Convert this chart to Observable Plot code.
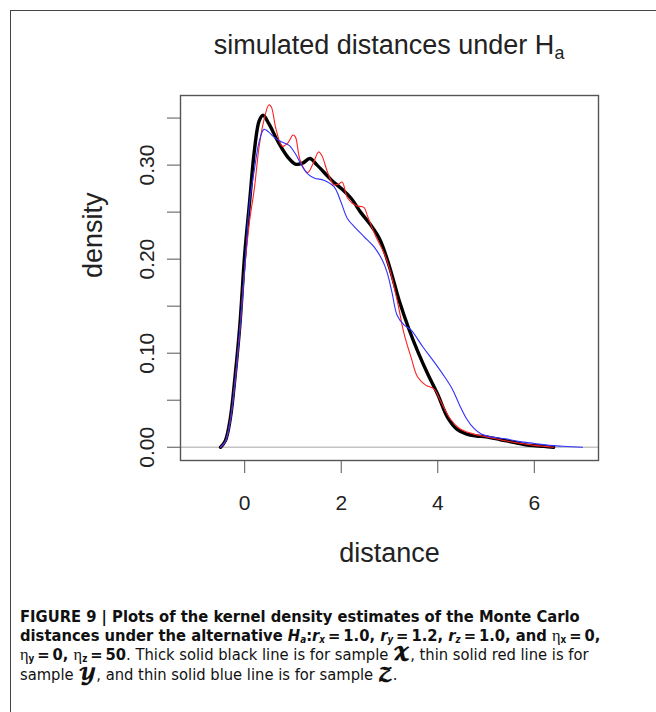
<!DOCTYPE html>
<html>
<head>
<meta charset="utf-8">
<script src="https://cdn.jsdelivr.net/npm/d3@7"></script>
<script src="https://cdn.jsdelivr.net/npm/@observablehq/plot@0.6"></script>
<style>
  html, body { margin: 0; padding: 0; background: #fff; }
  #wrap { position: relative; width: 656px; height: 712px; overflow: hidden; background: #fff; }
  #border { position: absolute; left: 10px; top: 10px; width: 700px; height: 760px; border-left: 1px solid #444; border-top: 1px solid #444; }
  #chart { position: absolute; left: 0; top: 0; }
  #title { position: absolute; left: 180px; width: 418px; top: 32px; text-align: center;
           font-family: "Liberation Sans", Arial, sans-serif; font-size: 27px; line-height: 27px; color: #222; }
  #title sub { font-size: 0.66em; vertical-align: -0.3em; line-height: 0; }
  #caption { position: absolute; left: 20px; top: 607px; width: 630px;
             font-family: "Liberation Sans Narrow", "DejaVu Sans Condensed", "Liberation Sans", sans-serif;
             font-stretch: condensed; font-size: 16.4px; line-height: 19px; color: #111; }
  #caption b { font-weight: bold; }
  .eta { font-family: "Liberation Serif", "DejaVu Serif", serif; font-weight: normal; }
  .scr { font-family: "DejaVu Math TeX Gyre", "DejaVu Sans", "DejaVu Serif", serif; font-weight: bold; }
  #caption sub { font-size: 0.6em; vertical-align: -0.2em; line-height: 0; }
</style>
</head>
<body>
<div id="wrap">
  <div id="border"></div>
  <div id="chart"></div>
  <div id="title">simulated distances under H<sub>a</sub></div>
  <div id="caption"><b>FIGURE 9 | Plots of the kernel density estimates of the Monte Carlo<br>distances under the alternative <i>H<sub>a</sub></i>:<i>r<sub>x</sub></i>&#8201;=&#8201;1.0, <i>r<sub>y</sub></i>&#8201;=&#8201;1.2, <i>r<sub>z</sub></i>&#8201;=&#8201;1.0, and <span class="eta">η</span><sub>x</sub>&#8201;=&#8201;0,<br><span class="eta">η</span><sub>y</sub>&#8201;=&#8201;0, <span class="eta">η</span><sub>z</sub>&#8201;=&#8201;50</b>. Thick solid black line is for sample <span class="scr">𝓧</span>, thin solid red line is for<br>sample <span class="scr">𝓨</span>, and thin solid blue line is for sample <span class="scr">𝓩</span>.</div>
</div>
<script>
// Sample X (thick black)
const blackX = [-0.5, -0.4, -0.3, -0.2, -0.1, 0.0, 0.1, 0.2, 0.3, 0.38, 0.5, 0.7, 0.9, 1.05, 1.2, 1.35, 1.5, 1.8, 2.0, 2.2, 2.4, 2.6, 2.8, 3.0, 3.2, 3.4, 3.6, 3.8, 4.0, 4.2, 4.4, 4.6, 4.8, 5.0, 5.3, 5.6, 5.9, 6.2, 6.4];
const blackY = [0.0, 0.007, 0.03, 0.075, 0.13, 0.205, 0.26, 0.315, 0.347, 0.353, 0.344, 0.324, 0.308, 0.301, 0.302, 0.307, 0.300, 0.284, 0.275, 0.265, 0.250, 0.237, 0.221, 0.192, 0.156, 0.126, 0.100, 0.077, 0.056, 0.032, 0.019, 0.014, 0.012, 0.011, 0.008, 0.005, 0.002, 0.001, 0.0];
// Sample Y (thin red)
const redX = [-0.5, -0.4, -0.3, -0.2, -0.1, 0.0, 0.1, 0.2, 0.3, 0.4, 0.5, 0.55, 0.65, 0.78, 0.9, 1.0, 1.05, 1.15, 1.3, 1.42, 1.53, 1.6, 1.72, 1.85, 1.95, 2.02, 2.13, 2.3, 2.47, 2.55, 2.7, 2.9, 3.0, 3.16, 3.3, 3.45, 3.58, 3.75, 3.92, 4.05, 4.26, 4.45, 4.68, 5.0, 5.3, 5.6, 6.0, 6.4];
const redY = [0.0, 0.006, 0.028, 0.07, 0.125, 0.19, 0.24, 0.275, 0.32, 0.348, 0.364, 0.362, 0.338, 0.320, 0.324, 0.332, 0.330, 0.305, 0.292, 0.302, 0.314, 0.310, 0.292, 0.279, 0.280, 0.282, 0.265, 0.257, 0.255, 0.245, 0.226, 0.205, 0.190, 0.156, 0.121, 0.095, 0.075, 0.066, 0.062, 0.050, 0.030, 0.020, 0.015, 0.011, 0.008, 0.005, 0.002, 0.0];
// Sample Z (thin blue)
const blueX = [-0.5, -0.4, -0.3, -0.2, -0.1, 0.0, 0.1, 0.2, 0.3, 0.4, 0.5, 0.6, 0.75, 0.92, 1.05, 1.2, 1.3, 1.45, 1.64, 1.85, 2.0, 2.13, 2.3, 2.47, 2.68, 2.85, 2.95, 3.05, 3.16, 3.3, 3.44, 3.7, 3.92, 4.1, 4.3, 4.45, 4.6, 4.75, 4.9, 5.1, 5.4, 5.7, 6.0, 6.3, 6.6, 7.0];
const blueY = [0.0, 0.006, 0.028, 0.07, 0.125, 0.19, 0.26, 0.295, 0.325, 0.338, 0.335, 0.330, 0.325, 0.321, 0.312, 0.298, 0.291, 0.286, 0.284, 0.277, 0.260, 0.243, 0.233, 0.224, 0.213, 0.199, 0.186, 0.165, 0.140, 0.130, 0.125, 0.106, 0.091, 0.078, 0.062, 0.045, 0.030, 0.020, 0.014, 0.011, 0.009, 0.006, 0.004, 0.002, 0.001, 0.0];

const xTicks = [0, 2, 4, 6];
const yTicks = [0, 0.05, 0.10, 0.15, 0.20, 0.25, 0.30, 0.35];
const yLabeled = [0, 0.10, 0.20, 0.30];

const toRows = (xs, ys) => xs.map((x, i) => ({x, y: ys[i]}));

const chart = Plot.plot({
  width: 656,
  height: 590,
  marginLeft: 180,
  marginRight: 58,
  marginTop: 95,
  marginBottom: 130,
  x: {domain: [-1.33, 7.33]},
  y: {domain: [-0.0141, 0.374]},
  style: {fontFamily: "'Liberation Sans', Arial, sans-serif", color: "#222", background: "transparent"},
  marks: [
    Plot.ruleY([0], {stroke: "#c4c4c4", strokeWidth: 1.3}),
    Plot.line(toRows(blackX, blackY), {x: "x", y: "y", stroke: "#000", strokeWidth: 3.4, curve: "catmull-rom"}),
    Plot.line(toRows(redX, redY), {x: "x", y: "y", stroke: "#ff2020", strokeWidth: 1.1, curve: "catmull-rom"}),
    Plot.line(toRows(blueX, blueY), {x: "x", y: "y", stroke: "#3030ff", strokeWidth: 1.1, curve: "catmull-rom"}),
    Plot.frame({stroke: "#555", strokeWidth: 1.4}),
    Plot.axisX({ticks: xTicks, tickSize: 13, tickPadding: 22, fontSize: 21, label: null, stroke: "#555", tickFormat: d => String(d)}),
    Plot.axisY({ticks: yTicks, tickSize: 13, tickPadding: 14, fontSize: 21, label: null, stroke: "#555", tickRotate: -90,
      tickFormat: d => yLabeled.some(v => Math.abs(v - d) < 1e-9) ? d.toFixed(2) : ""}),
    Plot.text(["distance"], {text: d => d, frameAnchor: "bottom", dy: 93, fontSize: 27, lineAnchor: "middle"}),
    Plot.text(["density"], {text: d => d, frameAnchor: "left", dx: -87, rotate: -90, fontSize: 27, lineAnchor: "middle"})
  ]
});
document.getElementById("chart").appendChild(chart);
</script>
</body>
</html>
